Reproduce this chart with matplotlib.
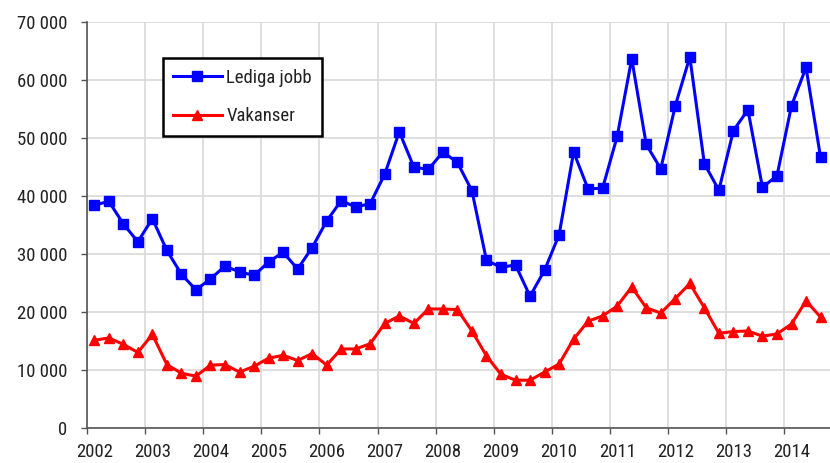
import numpy as np
import matplotlib.pyplot as plt
from matplotlib.ticker import FuncFormatter, FixedLocator

# Kvartal 2002 K1 - 2014 K3
years = list(range(2002, 2015))
lediga_jobb = [38400, 39100, 35200, 32100, 36100, 30600, 26500, 23800,
               25700, 27900, 26900, 26300, 28600, 30300, 27400, 31100,
               35700, 39200, 38100, 38700, 43800, 51100, 45000, 44600,
               47600, 45800, 40900, 28900, 27700, 28100, 22700, 27200,
               33300, 47600, 41200, 41400, 50300, 63700, 48900, 44700,
               55600, 64000, 45600, 41000, 51300, 54900, 41500, 43500,
               55600, 62200, 46700]
vakanser = [15100, 15500, 14400, 13000, 16100, 10900, 9400, 8900,
            10800, 10900, 9600, 10600, 12000, 12500, 11600, 12800,
            10800, 13600, 13600, 14500, 18000, 19300, 18000, 20500,
            20500, 20400, 16700, 12400, 9200, 8200, 8200, 9600,
            11000, 15300, 18400, 19300, 21000, 24300, 20700, 19800,
            22300, 24900, 20700, 16300, 16600, 16700, 15800, 16200,
            17900, 21900, 19100]

x = np.arange(len(lediga_jobb))

plt.rcParams['font.family'] = ['Roboto Condensed', 'Liberation Sans', 'DejaVu Sans']
fig = plt.figure(figsize=(8.3, 4.63), dpi=100)
ax = fig.add_axes([87 / 830, 1 - 427.7 / 463, 1 - 87 / 830, (427.7 - 22.3) / 463])

ax.plot(x, lediga_jobb, color='#0000FF', lw=2.2, marker='s', ms=7,
        label='Lediga jobb', zorder=3)
ax.plot(x, vakanser, color='#FF0000', lw=2.2, marker='^', ms=7.5,
        label='Vakanser', zorder=3)

ax.set_ylim(0, 70000)
ax.set_xlim(-0.5, 50.65)
ax.set_yticks(np.arange(0, 70001, 10000))
ax.yaxis.set_major_formatter(FuncFormatter(lambda v, p: f'{int(v):,}'.replace(',', ' ')))

# årsgränser som streck, etiketter vid första kvartalet
ax.xaxis.set_major_locator(FixedLocator([4 * i - 0.5 for i in range(len(years))]))
ax.set_xticklabels([])
ax.xaxis.set_minor_locator(FixedLocator([4 * i for i in range(len(years))]))
ax.set_xticklabels([str(y) for y in years], minor=True)
ax.tick_params(axis='x', which='major', length=4, width=1, color='#555555', direction='out')
ax.tick_params(axis='x', which='minor', length=0, pad=11, labelsize=13.5, labelcolor='#222222')
ax.tick_params(axis='y', length=4, width=1, color='#555555', pad=10, labelsize=13.5,
               labelcolor='#222222')

ax.grid(True, which='major', color='#d9d9d9', lw=1.2)
ax.set_axisbelow(True)
for s in ['top', 'right']:
    ax.spines[s].set_visible(False)
for s in ['left', 'bottom']:
    ax.spines[s].set_color('#555555')
    ax.spines[s].set_linewidth(1.2)

leg = ax.legend(loc='upper left', bbox_to_anchor=(162.7 / 830, 1 - 58.3 / 463),
                bbox_transform=fig.transFigure, borderaxespad=0,
                fontsize=13.5, frameon=True, fancybox=False, edgecolor='black',
                handlelength=2.6, labelspacing=1.1, borderpad=0.55, handletextpad=0.25)
leg.get_frame().set_linewidth(1.8)
leg.get_frame().set_alpha(1)
for t in leg.get_texts():
    t.set_color('#222222')

fig.savefig('out.png', dpi=100)
